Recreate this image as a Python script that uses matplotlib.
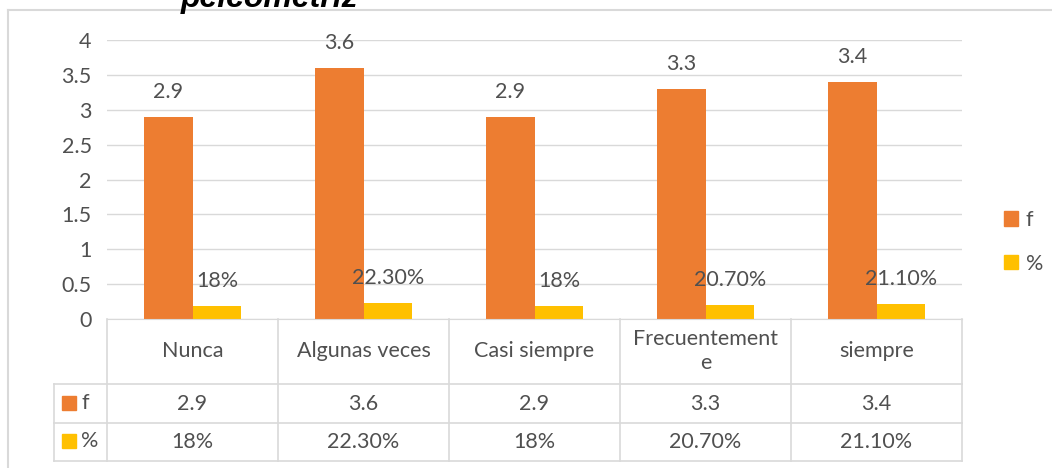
import matplotlib.pyplot as plt
from matplotlib.lines import Line2D
from matplotlib.patches import Patch, Rectangle

categories = ["Nunca", "Algunas veces", "Casi siempre", "Frecuentemente", "siempre"]
header_labels = ["Nunca", "Algunas veces", "Casi siempre", "Frecuentement\ne", "siempre"]
series_names = ["f", "%"]
f_values = [2.9, 3.6, 2.9, 3.3, 3.4]
f_labels = ["2.9", "3.6", "2.9", "3.3", "3.4"]
pct_values = [0.18, 0.223, 0.18, 0.207, 0.211]
pct_labels = ["18%", "22.30%", "18%", "20.70%", "21.10%"]
y_ticks = [0, 0.5, 1, 1.5, 2, 2.5, 3, 3.5, 4]
y_tick_labels = ["0", "0.5", "1", "1.5", "2", "2.5", "3", "3.5", "4"]
title_text = "pelcometriz"

ORANGE = "#ED7D31"
YELLOW = "#FFC000"
TEXT = "#505050"
LINE = "#d9d9d9"
FONT = "Lato"
FS = 15.5

W, H = 1052, 468
plt.rcParams["font.family"] = [FONT, "DejaVu Sans"]

fig = plt.figure(figsize=(W / 100, H / 100), dpi=100)

# pixel layout of the plot area
AX_L, AX_R, AX_T, AX_B = 107, 962, 40, 319
ax = fig.add_axes([AX_L / W, 1 - AX_B / H, (AX_R - AX_L) / W, (AX_B - AX_T) / H])


def ax_x(px):
    return (px - AX_L) / (AX_R - AX_L)


def ax_y(py):
    return (AX_B - py) / (AX_B - AX_T)


n = len(categories)
xs = list(range(n))
bw = 0.286
colors = [ORANGE, YELLOW]

b1 = ax.bar([x - bw / 2 for x in xs], f_values, width=bw, color=ORANGE, zorder=2)
b2 = ax.bar([x + bw / 2 for x in xs], pct_values, width=bw, color=YELLOW, zorder=2)

for bars, labels in [(b1, f_labels), (b2, pct_labels)]:
    for rect, lab in zip(bars, labels):
        ax.annotate(lab, (rect.get_x() + rect.get_width() / 2, rect.get_height()),
                    xytext=(0, 25), textcoords="offset pixels",
                    ha="center", va="center", color=TEXT, fontsize=FS, zorder=3)

ax.set_xlim(-0.5, n - 0.5)
ax.set_ylim(0, 4)
ax.set_yticks(y_ticks)
ax.set_yticklabels(y_tick_labels)
ax.set_xticks([])
ax.tick_params(axis="y", length=0, pad=11, labelsize=FS, labelcolor=TEXT)
ax.yaxis.grid(True, color=LINE, lw=1)
ax.set_axisbelow(True)
for s in ["left", "right", "top"]:
    ax.spines[s].set_visible(False)
ax.spines["bottom"].set_color(LINE)

# data table below the plot
tr = ax.transAxes
row_lines = [384, 423, 461]
for py in row_lines:
    ax.add_line(Line2D([ax_x(54), 1], [ax_y(py)] * 2, transform=tr,
                       color=LINE, lw=1.2, clip_on=False))
for i in range(n + 1):
    ax.add_line(Line2D([i / n] * 2, [0, ax_y(461)], transform=tr,
                       color=LINE, lw=1.2, clip_on=False))
ax.add_line(Line2D([ax_x(54)] * 2, [ax_y(384), ax_y(461)], transform=tr,
                   color=LINE, lw=1.2, clip_on=False))

for i, lab in enumerate(header_labels):
    ax.text((i + 0.5) / n, ax_y(351), lab, transform=tr, ha="center", va="center",
            color=TEXT, fontsize=FS, linespacing=1.3)
for row_y, labels in [(404, f_labels), (442, pct_labels)]:
    for i, lab in enumerate(labels):
        ax.text((i + 0.5) / n, ax_y(row_y), lab, transform=tr, ha="center",
                va="center", color=TEXT, fontsize=FS)

for row_y, name, c in zip([403, 441], series_names, colors):
    ax.add_patch(Rectangle((ax_x(62), ax_y(row_y + 7)), ax_x(76) - ax_x(62),
                           ax_y(row_y - 7) - ax_y(row_y + 7), transform=tr,
                           color=c, clip_on=False))
    ax.text(ax_x(81), ax_y(row_y), name, transform=tr, ha="left", va="center",
            color=TEXT, fontsize=FS)

# legend on the right
handles = [Patch(color=c) for c in colors]
leg = fig.legend(handles, series_names, loc="center left",
                 bbox_to_anchor=(1004 / W, 1 - 242 / H), frameon=False,
                 borderpad=0, borderaxespad=0, handlelength=0.65,
                 handleheight=0.65, handletextpad=0.35, labelspacing=1.1,
                 fontsize=FS)
for t in leg.get_texts():
    t.set_color(TEXT)

# chart frame and the title, which is cut off at the top as in the source
fig.add_artist(Line2D([8 / W, 1], [1 - 10 / H] * 2, color=LINE, lw=1.5))
fig.add_artist(Line2D([8 / W] * 2, [0, 1 - 10 / H], color=LINE, lw=1.5))
fig.text(270 / W, 1 - 7 / H, title_text, ha="center", va="baseline",
         fontsize=23, fontweight="bold", fontstyle="italic", color="black",
         family=["Liberation Sans", "DejaVu Sans"])

fig.savefig("out.png", dpi=100)
